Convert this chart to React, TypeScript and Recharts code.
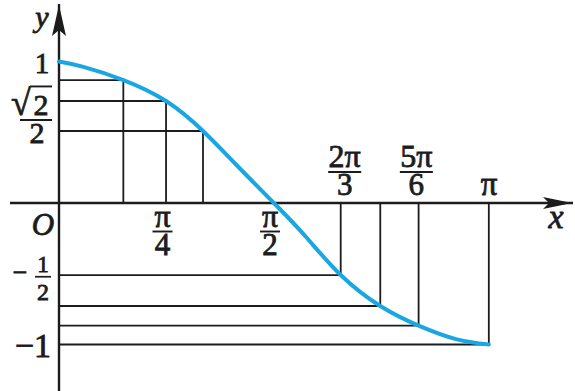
import React from 'react';
import { ComposedChart, Line, XAxis, YAxis, ReferenceLine, ReferenceDot } from 'recharts';

// ---- data ----
const curveX = [0, 0.178, 0.47, 0.782, 1.052, 1.3, 1.57, 1.8, 2.058, 2.347, 2.627, 2.9, 3.14];
const curveY = [1.0, 0.962, 0.869, 0.721, 0.509, 0.265, 0.0, -0.235, -0.509, -0.728, -0.867, -0.962, -1.0];
const curve = curveX.map((x, i) => ({ x, y: curveY[i] }));

const upperGuides = [
  { x: 0.47, y: 0.869 },
  { x: 0.782, y: 0.721 },
  { x: 1.052, y: 0.509 },
];
const lowerGuides = [
  { x: 2.058, y: -0.509 },
  { x: 2.347, y: -0.728 },
  { x: 2.627, y: -0.867 },
  { x: 3.14, y: -1.0 },
];

const PI = Math.PI;
const xTickLabels = [
  { value: PI / 4, num: 'π', den: '4', side: 'below' },
  { value: PI / 2, num: 'π', den: '2', side: 'below' },
  { value: (2 * PI) / 3, num: '2π', den: '3', side: 'above' },
  { value: (5 * PI) / 6, num: '5π', den: '6', side: 'above' },
  { value: PI, num: 'π', den: '', side: 'above' },
];
const yTickLabels = [
  { value: 1, kind: 'one' },
  { value: Math.SQRT2 / 2, kind: 'sqrt' },
  { value: -0.5, kind: 'half' },
  { value: -1, kind: 'minusOne' },
];

const X_DOMAIN: [number, number] = [-0.358, 3.755];
const Y_DOMAIN: [number, number] = [-1.3286, 1.4064];

const FONT = "'Liberation Serif', 'Times New Roman', serif";
const INK = '#1c1c1c';
const BLUE = '#1aa6e2';

const T = (props: any) => {
  const { italic, size, children, ...rest } = props;
  return (
    <text
      {...rest}
      fill={INK}
      stroke={INK}
      strokeWidth={0.8}
      style={{ fontFamily: FONT, fontSize: size, fontStyle: italic ? 'italic' : 'normal' }}
    >
      {children}
    </text>
  );
};

const XFrac = (p: any, item: any) => {
  const { cx, cy } = p;
  if (!item.den) {
    return (
      <T x={cx} y={cy - 8} textAnchor="middle" size={33}>
        {item.num}
      </T>
    );
  }
  const below = item.side === 'below';
  const dx = below ? -4 : -1;
  const nY = below ? cy + 24 : cy - 36;
  const bY = below ? cy + 28.5 : cy - 31;
  const dY = below ? cy + 52 : cy - 8;
  const w = item.num.length > 1 ? 33 : 20;
  const x = cx + dx;
  return (
    <g>
      <T textAnchor="middle" size={32}>
        <tspan x={x} y={nY}>{item.num}</tspan>
        <tspan x={x} y={dY} style={{ fontSize: 31 }}>{item.den}</tspan>
      </T>
      <line x1={x - w / 2} x2={x + w / 2} y1={bY} y2={bY} stroke={INK} strokeWidth={1.9} />
    </g>
  );
};

const YLab = (p: any, item: any) => {
  const { cx, cy } = p;
  if (item.kind === 'one') {
    return (
      <T x={cx - 17} y={cy + 11.3} textAnchor="middle" size={29}>
        1
      </T>
    );
  }
  if (item.kind === 'sqrt') {
    const by = cy + 12;
    return (
      <g>
        <T textAnchor="middle" size={30}>
          <tspan x={cx - 38} y={by} style={{ fontSize: 36 }}>√</tspan>
          <tspan x={cx - 18} y={by}>2</tspan>
          <tspan x={cx - 22} y={cy + 40}>2</tspan>
        </T>
        <line x1={cx - 29} x2={cx - 7} y1={cy - 16.5} y2={cy - 16.5} stroke={INK} strokeWidth={1.9} />
        <line x1={cx - 39} x2={cx - 7} y1={cy + 17} y2={cy + 17} stroke={INK} strokeWidth={1.9} />
      </g>
    );
  }
  if (item.kind === 'half') {
    return (
      <g>
        <T textAnchor="middle" size={23}>
          <tspan x={cx - 39} y={cy + 7} style={{ fontSize: 26 }}>−</tspan>
          <tspan x={cx - 16} y={cy - 2}>1</tspan>
          <tspan x={cx - 16} y={cy + 26} style={{ fontSize: 24 }}>2</tspan>
        </T>
        <line x1={cx - 24} x2={cx - 8} y1={cy + 3} y2={cy + 3} stroke={INK} strokeWidth={1.7} />
      </g>
    );
  }
  return (
    <T x={cx - 8} y={cy + 12.5} textAnchor="end" size={34}>
      −1
    </T>
  );
};

const OriginLabel = (p: any) => (
  <T x={p.cx - 16} y={p.cy + 32} textAnchor="middle" italic size={31}>
    O
  </T>
);

const XName = (p: any) => (
  <T x={p.cx - 17} y={p.cy + 25} textAnchor="middle" italic size={34}>
    x
  </T>
);

const YName = (p: any) => (
  <T x={p.cx - 17} y={p.cy + 23} textAnchor="middle" italic size={30}>
    y
  </T>
);

const ArrowUp = (p: any) => {
  const { cx, cy } = p;
  const t = cy + 1;
  return <path d={`M${cx},${t} L${cx - 7},${t + 31} L${cx},${t + 25} L${cx + 7},${t + 31} Z`} fill={INK} />;
};

const ArrowRight = (p: any) => {
  const { cx, cy } = p;
  const t = cx - 1;
  return <path d={`M${t},${cy} L${t - 29},${cy - 6} L${t - 23},${cy} L${t - 29},${cy + 6} Z`} fill={INK} />;
};

export default function App() {
  return (
    <div style={{ position: 'absolute', left: 0, top: 0, width: 575, height: 391, background: '#fff' }}>
      <ComposedChart width={575} height={391} data={curve} margin={{ top: 4, right: 2, bottom: 0, left: 10 }}>
        <XAxis type="number" dataKey="x" domain={X_DOMAIN} allowDataOverflow hide />
        <YAxis type="number" domain={Y_DOMAIN} allowDataOverflow hide />

        {upperGuides.map((g, i) => (
          <ReferenceLine key={`uh${i}`} segment={[{ x: 0, y: g.y }, { x: g.x, y: g.y }]} stroke={INK} strokeWidth={1.8} ifOverflow="visible" />
        ))}
        {upperGuides.map((g, i) => (
          <ReferenceLine key={`uv${i}`} segment={[{ x: g.x, y: 0 }, { x: g.x, y: g.y }]} stroke={INK} strokeWidth={1.8} ifOverflow="visible" />
        ))}
        {lowerGuides.map((g, i) => (
          <ReferenceLine key={`lh${i}`} segment={[{ x: 0, y: g.y }, { x: g.x, y: g.y }]} stroke={INK} strokeWidth={1.8} ifOverflow="visible" />
        ))}
        {lowerGuides.map((g, i) => (
          <ReferenceLine key={`lv${i}`} segment={[{ x: g.x, y: 0 }, { x: g.x, y: g.y }]} stroke={INK} strokeWidth={1.8} ifOverflow="visible" />
        ))}

        <ReferenceLine y={0} stroke={INK} strokeWidth={2.4} />
        <ReferenceLine x={0} stroke={INK} strokeWidth={2.4} />

        <Line dataKey="y" type="natural" stroke={BLUE} strokeWidth={4} dot={false} activeDot={false} strokeLinecap="round" isAnimationActive={false} />

        <ReferenceDot x={0} y={Y_DOMAIN[1]} r={1} ifOverflow="visible" shape={ArrowUp} />
        <ReferenceDot x={X_DOMAIN[1]} y={0} r={1} ifOverflow="visible" shape={ArrowRight} />
        <ReferenceDot x={0} y={Y_DOMAIN[1]} r={1} ifOverflow="visible" shape={YName} />
        <ReferenceDot x={X_DOMAIN[1]} y={0} r={1} ifOverflow="visible" shape={XName} />
        <ReferenceDot x={0} y={0} r={1} ifOverflow="visible" shape={OriginLabel} />

        {xTickLabels.map((item, i) => (
          <ReferenceDot key={`xl${i}`} x={item.value} y={0} r={1} ifOverflow="visible" shape={(p: any) => XFrac(p, item)} />
        ))}
        {yTickLabels.map((item, i) => (
          <ReferenceDot key={`yl${i}`} x={0} y={item.value} r={1} ifOverflow="visible" shape={(p: any) => YLab(p, item)} />
        ))}
      </ComposedChart>
    </div>
  );
}
